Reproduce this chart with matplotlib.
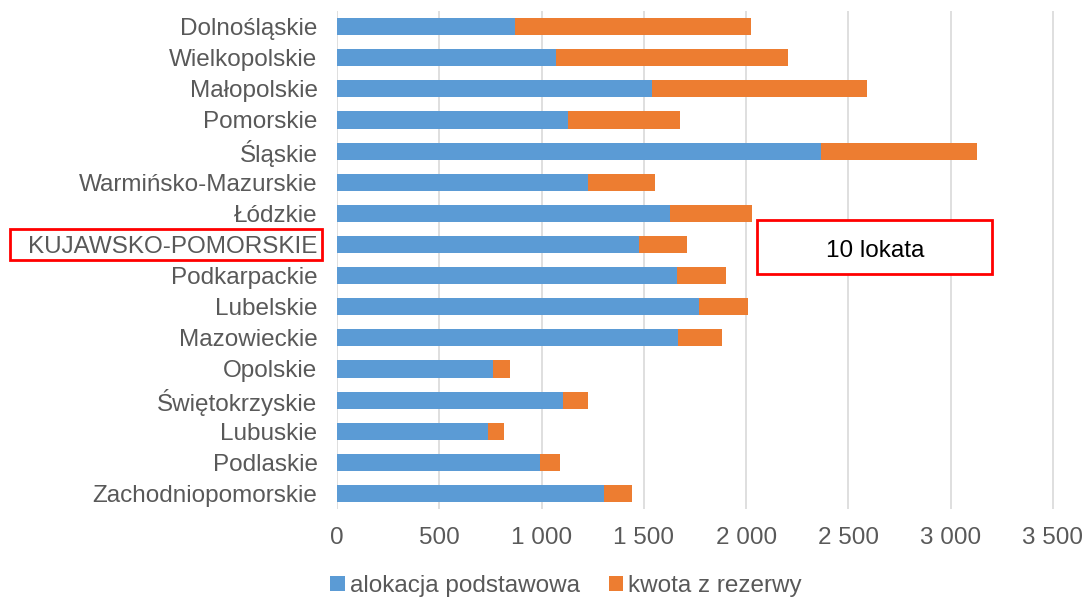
import numpy as np
import matplotlib.pyplot as plt
from matplotlib.patches import Rectangle

# Dane
wojewodztwa = ['Dolnośląskie', 'Wielkopolskie', 'Małopolskie', 'Pomorskie', 'Śląskie',
               'Warmińsko-Mazurskie', 'Łódzkie', 'KUJAWSKO-POMORSKIE', 'Podkarpackie',
               'Lubelskie', 'Mazowieckie', 'Opolskie', 'Świętokrzyskie', 'Lubuskie',
               'Podlaskie', 'Zachodniopomorskie']
alokacja = [868, 1069, 1541, 1128, 2366, 1226, 1630, 1475, 1660, 1768, 1669, 763, 1106, 737, 990, 1307]
suma = [2025, 2204, 2589, 1678, 3128, 1556, 2030, 1713, 1903, 2008, 1881, 848, 1228, 815, 1090, 1442]
rezerwa = [s - a for s, a in zip(suma, alokacja)]
x_ticks = [0, 500, 1000, 1500, 2000, 2500, 3000, 3500]
x_labels = ['0', '500', '1 000', '1 500', '2 000', '2 500', '3 000', '3 500']

plt.rcParams['font.family'] = ['Liberation Sans', 'DejaVu Sans']
szary = '#595959'

fig = plt.figure(figsize=(10.84, 6.01), dpi=100)
ax = fig.add_axes([0.3109, 0.153, 0.6642, 0.8287])

y = np.arange(len(wojewodztwa))
ax.barh(y, alokacja, height=0.55, color='#5B9BD5', label='alokacja podstawowa', zorder=3)
ax.barh(y, rezerwa, left=alokacja, height=0.55, color='#ED7D31', label='kwota z rezerwy', zorder=3)

ax.set_ylim(len(wojewodztwa) - 0.5, -0.5)
ax.set_xlim(0, 3520)
ax.set_yticks(y)
ax.set_yticklabels(wojewodztwa, fontsize=17.5, color=szary)
ax.set_xticks(x_ticks)
ax.set_xticklabels(x_labels, fontsize=17.5, color=szary)
ax.tick_params(axis='y', length=0, pad=14)
ax.tick_params(axis='x', length=0, pad=13)
ax.grid(axis='x', color='#d9d9d9', linewidth=1.2, zorder=0)
for s in ax.spines.values():
    s.set_visible(False)

# Czerwona ramka wokół etykiety Kujawsko-Pomorskiego
fig.add_artist(Rectangle((10 / 1084, 1 - 260 / 601), 312 / 1084, 31 / 601,
                         transform=fig.transFigure, fill=False, edgecolor='#ff0000', linewidth=2))
# Ramka z opisem lokaty
fig.add_artist(Rectangle((757 / 1084, 1 - 274 / 601), 235 / 1084, 54 / 601,
                         transform=fig.transFigure, facecolor='white', edgecolor='#ff0000',
                         linewidth=2, zorder=5))
fig.text(875 / 1084, 1 - 251 / 601, '10 lokata', fontsize=17.5, color='black',
         ha='center', va='center', zorder=6)

leg = fig.legend(loc='center', bbox_to_anchor=(566 / 1084, 1 - 586 / 601), ncol=2,
                 frameon=False, fontsize=17.5, handlelength=0.6, handleheight=0.6,
                 handletextpad=0.2, columnspacing=1.2)
for t in leg.get_texts():
    t.set_color(szary)

fig.savefig('out.png', dpi=100)
